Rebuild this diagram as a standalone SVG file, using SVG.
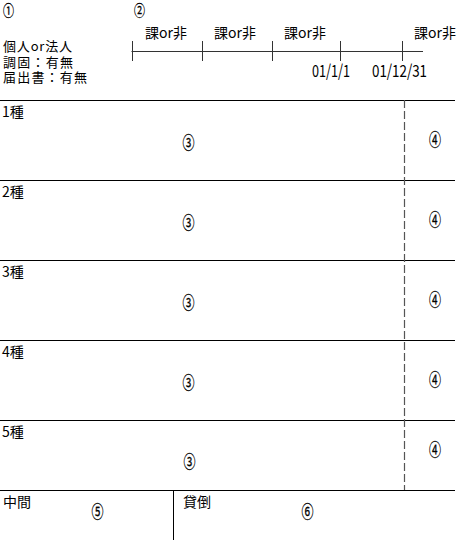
<svg xmlns="http://www.w3.org/2000/svg" width="461" height="540" viewBox="0 0 461 540">
<style>
text{font-family:"Noto Sans CJK JP","Noto Sans CJK SC",sans-serif;font-size:14px;fill:#000}
.h{font-size:13px}
.n{font-size:17px;text-anchor:middle;stroke:#000;stroke-width:0.3}
.t{font-size:15px}
.d{font-size:17px}
.rule{stroke:#000;stroke-width:1;fill:none}
.tl{stroke:#333;stroke-width:1;fill:none}
.dash{stroke:#555;stroke-width:1.2;stroke-dasharray:8,3;fill:none}
</style>
<rect width="461" height="540" fill="#fff"/>
<g id="header">
<text class="n t" x="8.5" y="15.5" textLength="11" lengthAdjust="spacingAndGlyphs">①</text>
<text class="h" x="3" y="51" textLength="69" lengthAdjust="spacing">個人or法人</text>
<text class="h" x="3" y="66.5" textLength="70" lengthAdjust="spacing">調固：有無</text>
<text class="h" x="3" y="82" textLength="84" lengthAdjust="spacing">届出書：有無</text>
<text class="n t" x="139.5" y="15.5" textLength="11" lengthAdjust="spacingAndGlyphs">②</text>
</g>
<g id="timeline">
<path class="tl" d="M131.5 51.5H423M132.5 41V61M202.5 41V61M272.5 41V61M340.5 41V61M402.5 41V61"/>
<text x="145" y="38">課or非</text>
<text x="214" y="38">課or非</text>
<text x="284" y="38">課or非</text>
<text x="414" y="38">課or非</text>
<text class="d" x="312" y="77" textLength="38" lengthAdjust="spacingAndGlyphs">01/1/1</text>
<text class="d" x="372" y="77" textLength="55" lengthAdjust="spacingAndGlyphs">01/12/31</text>
</g>
<g id="connectors">
<path class="rule" d="M0 100.5H455M0 180.5H455M0 260.5H455M0 340.5H455M0 420.5H455M0 490.5H455M173.5 490V540"/>
<path class="dash" d="M404.5 100V490"/>
</g>
<g id="row1">
<text x="2" y="117">1種</text>
<text class="n" x="188.5" y="148.5" textLength="12" lengthAdjust="spacingAndGlyphs">③</text>
<text class="n" x="435" y="145.5" textLength="12" lengthAdjust="spacingAndGlyphs">④</text>
</g>
<g id="row2">
<text x="2" y="197">2種</text>
<text class="n" x="188.5" y="228.5" textLength="12" lengthAdjust="spacingAndGlyphs">③</text>
<text class="n" x="435" y="225.5" textLength="12" lengthAdjust="spacingAndGlyphs">④</text>
</g>
<g id="row3">
<text x="2" y="277">3種</text>
<text class="n" x="188.5" y="308.5" textLength="12" lengthAdjust="spacingAndGlyphs">③</text>
<text class="n" x="435" y="305.5" textLength="12" lengthAdjust="spacingAndGlyphs">④</text>
</g>
<g id="row4">
<text x="2" y="357">4種</text>
<text class="n" x="188.5" y="388.5" textLength="12" lengthAdjust="spacingAndGlyphs">③</text>
<text class="n" x="435" y="385.5" textLength="12" lengthAdjust="spacingAndGlyphs">④</text>
</g>
<g id="row5">
<text x="2" y="437">5種</text>
<text class="n" x="189.5" y="467.5" textLength="12" lengthAdjust="spacingAndGlyphs">③</text>
<text class="n" x="435" y="455.5" textLength="12" lengthAdjust="spacingAndGlyphs">④</text>
</g>
<g id="chukan">
<text x="3" y="507">中間</text>
<text class="n" x="97.5" y="517.5" textLength="12" lengthAdjust="spacingAndGlyphs">⑤</text>
</g>
<g id="kashidaore">
<text x="183" y="507">貸倒</text>
<text class="n" x="307.5" y="517.5" textLength="12" lengthAdjust="spacingAndGlyphs">⑥</text>
</g>
</svg>
